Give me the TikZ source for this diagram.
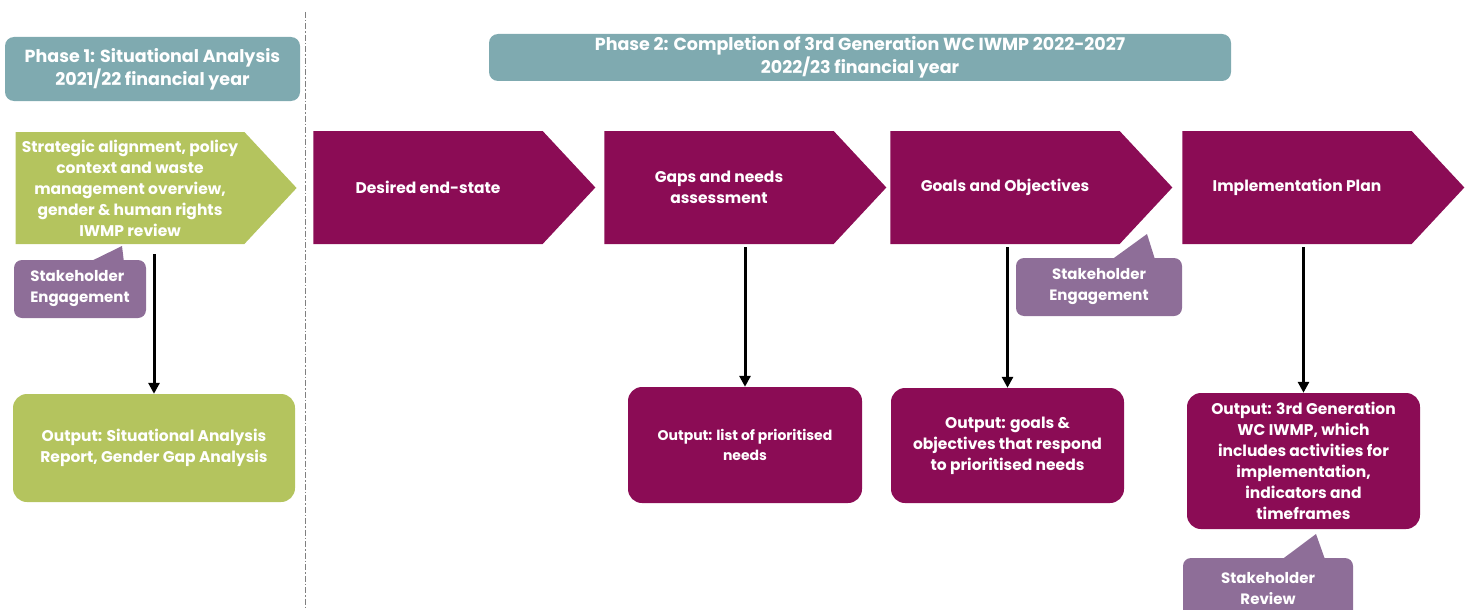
\documentclass[tikz,border=0pt]{standalone}
\usepackage{fontspec}
\setmainfont{Poppins}
\usetikzlibrary{shapes.symbols,arrows.meta,calc}

\definecolor{phaseteal}{RGB}{127,170,176}
\definecolor{leafgreen}{RGB}{180,196,94}
\definecolor{plum}{RGB}{139,12,85}
\definecolor{mauve}{RGB}{142,110,152}

\tikzset{
  boldtext/.style={text=white, align=center, font=\bfseries\fontsize{15.5}{21}\selectfont},
  phasebox/.style={boldtext, fill=phaseteal, rounded corners=9pt, inner sep=0pt,
    font=\bfseries\fontsize{17.5}{23}\selectfont},
  stepchev/.style={boldtext, signal, signal to=east, signal pointer angle=94,
    minimum width=282pt, minimum height=113pt, inner sep=0pt},
  outbox/.style={boldtext, rounded corners=14pt, inner sep=0pt, minimum width=233pt},
  talkbox/.style={boldtext, fill=mauve, rounded corners=8pt, inner sep=0pt,
    font=\bfseries\fontsize{15}{21}\selectfont},
  flow/.style={line width=3pt, -{Triangle[length=11pt,width=11pt]}},
}

\begin{document}
\begin{tikzpicture}[x=1pt, y=-1pt]
        \useasboundingbox (0,0) rectangle (1470,610);

        % Phase headers
        \node[phasebox, minimum width=295pt, minimum height=64pt] (phase1) at (152.5,69)
            {Phase 1: Situational Analysis\\2021/22 financial year};
        \node[phasebox, minimum width=742pt, minimum height=47pt] (phase2) at (860,57.5)
            {Phase 2: Completion of 3rd Generation WC IWMP 2022-2027\\2022/23 financial year};

        % Phase divider
        \draw[gray, dash pattern=on 6pt off 2pt on 1.5pt off 2pt] (305,12) -- (305,610);

        % Phase 1 step
        \node[stepchev, fill=leafgreen, minimum width=281pt, minimum height=112pt] (sitchev) at (130,188)
            {Strategic alignment, policy\\context and waste\\management overview,\\gender \& human rights\\IWMP review};

        % Phase 2 steps
        \node[stepchev, fill=plum] (desired) at (428,187.5) {Desired end-state};
        \node[stepchev, fill=plum] (gaps) at (719,187.5) {Gaps and needs\\assessment};
        \node[stepchev, fill=plum] (goals) at (1005,187.5) {Goals and Objectives};
        \node[stepchev, fill=plum] (plan) at (1297,187.5) {Implementation Plan};

        % Outputs
        \node[outbox, fill=leafgreen, minimum width=282pt, minimum height=108pt] (sitout) at (154,448)
            {Output: Situational Analysis\\Report, Gender Gap Analysis};
        \node[outbox, fill=plum, minimum width=234pt, minimum height=116pt,
            font=\bfseries\fontsize{14}{20}\selectfont] (gapsout) at (745,445)
            {Output: list of prioritised\\needs};
        \node[outbox, fill=plum, minimum height=115pt] (goalsout) at (1007.5,445.5)
            {Output: goals \&\\objectives that respond\\to prioritised needs};
        \node[outbox, fill=plum, minimum height=136pt] (planout) at (1303.5,461)
            {Output: 3rd Generation\\WC IWMP, which\\includes activities for\\implementation,\\indicators and\\timeframes};

        \draw[flow, shorten <=10pt] (sitchev.south -| sitout.north) -- (sitout.north);
        \draw[flow, shorten <=3pt] (gaps.south -| gapsout.north) -- (gapsout.north);
        \draw[flow, shorten <=3pt] (goals.south -| goalsout.north) -- (goalsout.north);
        \draw[flow, shorten <=3pt] (plan.south -| planout.north) -- (planout.north);

        % Stakeholder callouts
        \node[talkbox, minimum width=132pt, minimum height=58pt, align=left] (talk1) at (80,289)
            {Stakeholder\\Engagement};
        \coordinate (talk1tip) at (122,246);
        \fill[mauve] ($(talk1.north west)+(78,1)$) -- (talk1tip) -- ($(talk1.north west)+(110,1)$) -- cycle;

        \node[talkbox, minimum width=166pt, minimum height=58pt] (talk2) at (1099,287)
            {Stakeholder\\Engagement};
        \coordinate (talk2tip) at (1147,234);
        \fill[mauve] ($(talk2.north west)+(97,1)$) -- (talk2tip) -- ($(talk2.north west)+(139,1)$) -- cycle;

        \node[talkbox, minimum width=170pt, minimum height=62pt] (talk3) at (1268,589)
            {Stakeholder\\Review};
        \coordinate (talk3tip) at (1316,534);
        \fill[mauve] ($(talk3.north west)+(100,1)$) -- (talk3tip) -- ($(talk3.north west)+(142,1)$) -- cycle;

\end{tikzpicture}
\end{document}
